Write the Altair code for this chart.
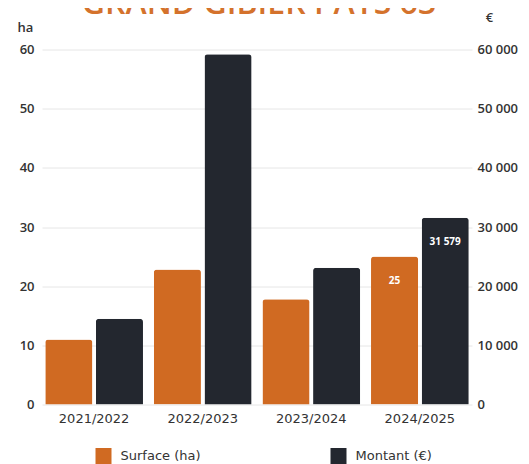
import altair as alt
import pandas as pd

seasons = ["2021/2022", "2022/2023", "2023/2024", "2024/2025"]
surface_ha = [11, 22.8, 17.8, 25]
montant_eur = [14500, 59200, 23100, 31579]
surface_labels = ["", "", "", "25"]
montant_labels = ["", "", "", "31 579"]
series_names = ["Surface (ha)", "Montant (€)"]
series_colors = ["#D06A22", "#23272F"]
title_text = ["GRAND GIBIER PAYS 63"]
left_ticks = [0, 10, 20, 30, 40, 50, 60]
right_ticks = [0, 10000, 20000, 30000, 40000, 50000, 60000]

df_s = pd.DataFrame({"season": seasons, "value": surface_ha,
                     "label": surface_labels, "series": series_names[0]})
df_m = pd.DataFrame({"season": seasons, "value": montant_eur,
                     "label": montant_labels, "series": series_names[1]})
df_t = pd.DataFrame({"t": title_text})

AXIS_COLOR = "#333333"

x_enc = alt.X("season:N", sort=seasons,
              scale=alt.Scale(paddingInner=0.1, paddingOuter=0.03),
              axis=alt.Axis(title=None, labelAngle=0, ticks=False, domain=False,
                            labelPadding=8, labelFont="DejaVu Sans", labelFontSize=13,
                            labelColor=AXIS_COLOR))
xoff_enc = alt.XOffset("series:N", sort=series_names,
                       scale=alt.Scale(domain=series_names, paddingInner=0.07))
color_enc = alt.Color("series:N", sort=series_names,
                      scale=alt.Scale(domain=series_names, range=series_colors),
                      legend=alt.Legend(title=None, orient="none", legendX=53.5, legendY=398.5,
                                        direction="horizontal", symbolType="square",
                                        symbolSize=256, symbolStrokeWidth=0, labelOffset=9,
                                        columnPadding=129, padding=0,
                                        labelFont="DejaVu Sans", labelFontSize=13,
                                        labelColor=AXIS_COLOR))

bar_style = dict(cornerRadiusTopLeft=3, cornerRadiusTopRight=3)

left_bar = alt.Chart(df_s).mark_bar(**bar_style).encode(
    x=x_enc, xOffset=xoff_enc, color=color_enc,
    y=alt.Y("value:Q", scale=alt.Scale(domain=[0, 60]),
            axis=alt.Axis(values=left_ticks, title="ha", titleAngle=0, titleX=-17, titleY=-22.5,
                          titleAlign="center", titleBaseline="middle", titleFont="Open Sans",
                          titleFontSize=13, titleFontWeight=600, titleColor=AXIS_COLOR,
                          labelFont="Open Sans", labelFontSize=13, labelFontWeight=600,
                          labelColor=AXIS_COLOR, labelPadding=8, ticks=False, domain=False,
                          grid=True, gridColor="#e6e6e6"))
)
left_text = alt.Chart(df_s).mark_text(color="white", fontSize=10, fontWeight="bold",
                                      font="Open Sans", baseline="middle", dy=24).encode(
    x=x_enc, xOffset=xoff_enc,
    y=alt.Y("value:Q", scale=alt.Scale(domain=[0, 60])),
    text="label:N"
)
title_layer = alt.Chart(df_t).mark_text(fontSize=32, fontWeight=600, font="Open Sans",
                                        color="#D4722C", baseline="alphabetic", align="center").encode(
    x=alt.value(217), y=alt.value(-36), text="t:N"
)

right_bar = alt.Chart(df_m).mark_bar(**bar_style).encode(
    x=x_enc, xOffset=xoff_enc, color=color_enc,
    y=alt.Y("value:Q", scale=alt.Scale(domain=[0, 60000]),
            axis=alt.Axis(orient="right", values=right_ticks,
                          labelExpr="replace(format(datum.value, ','), ',', ' ')",
                          title="€", titleAngle=0, titleX=17, titleY=-32,
                          titleAlign="center", titleBaseline="middle", titleFont="Open Sans",
                          titleFontSize=13, titleFontWeight=600, titleColor=AXIS_COLOR,
                          labelFont="Open Sans", labelFontSize=13, labelFontWeight=600,
                          labelColor=AXIS_COLOR, labelPadding=5, ticks=False, domain=False,
                          grid=False))
)
right_text = alt.Chart(df_m).mark_text(color="white", fontSize=10, fontWeight="bold",
                                       font="Open Sans", baseline="middle", dy=24).encode(
    x=x_enc, xOffset=xoff_enc,
    y=alt.Y("value:Q", scale=alt.Scale(domain=[0, 60000])),
    text="label:N"
)

left = alt.layer(left_bar, left_text, title_layer)
right = alt.layer(right_bar, right_text)

chart = alt.layer(left, right).resolve_scale(y="independent").properties(
    width=430, height=355,
    autosize=alt.AutoSizeParams(type="none"),
    padding={"left": 34, "top": 41.5, "right": 49, "bottom": 59.5},
).configure_view(stroke=None)

chart.save("out.html", embed_options={"renderer": "svg", "actions": False})
